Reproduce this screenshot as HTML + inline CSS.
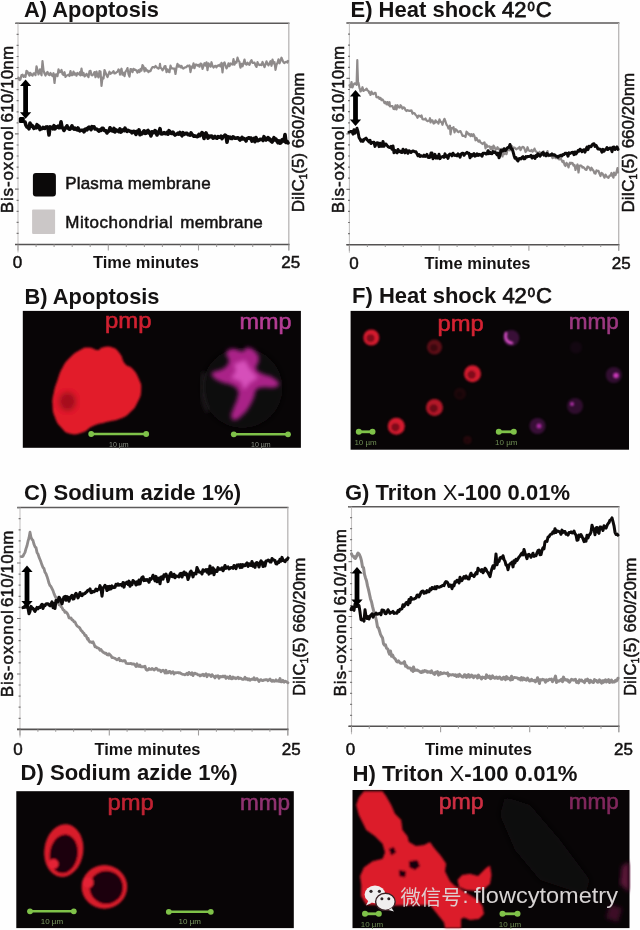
<!DOCTYPE html>
<html><head><meta charset="utf-8"><title>Membrane potential figure</title>
<style>html,body{margin:0;padding:0;background:#fff;overflow:hidden}svg{display:block;filter:blur(0.45px)}</style>
</head><body>
<svg width="640" height="930" viewBox="0 0 640 930">
<rect width="640" height="930" fill="#fefefe"/>
<defs>
<filter id="b1" x="-20%" y="-20%" width="140%" height="140%"><feGaussianBlur stdDeviation="1"/></filter>
<filter id="b2" x="-20%" y="-20%" width="140%" height="140%"><feGaussianBlur stdDeviation="2"/></filter>
<filter id="b3" x="-30%" y="-30%" width="160%" height="160%"><feGaussianBlur stdDeviation="3.5"/></filter>
<filter id="b05" x="-10%" y="-10%" width="120%" height="120%"><feGaussianBlur stdDeviation="0.6"/></filter>
</defs>
<text x="24.0" y="17.0" font-size="22" font-weight="bold" font-family="'Liberation Sans', sans-serif" fill="#141212" textLength="135.0" lengthAdjust="spacingAndGlyphs">A) Apoptosis</text><line x1="15.5" y1="23.3" x2="289.5" y2="23.3" stroke="#5c5a5a" stroke-width="1.5"/><line x1="288.8" y1="23.3" x2="288.8" y2="250.5" stroke="#b8b6b6" stroke-width="1.3"/><line x1="18.0" y1="23.3" x2="18.0" y2="252.5" stroke="#c6c4c4" stroke-width="1.1"/><path d="M15.0 244.5h3.6M16.6 233.4h2.0M16.6 222.4h2.0M16.6 211.3h2.0M16.6 200.3h2.0M15.0 189.2h3.6M16.6 178.1h2.0M16.6 167.1h2.0M16.6 156.0h2.0M16.6 145.0h2.0M15.0 133.9h3.6M16.6 122.8h2.0M16.6 111.8h2.0M16.6 100.7h2.0M16.6 89.7h2.0M15.0 78.6h3.6M16.6 67.5h2.0M16.6 56.5h2.0M16.6 45.4h2.0M16.6 34.4h2.0M15.0 23.3h3.6" stroke="#7a7878" stroke-width="1.2" fill="none"/><line x1="15.0" y1="244.5" x2="289.5" y2="244.5" stroke="#545252" stroke-width="1.6"/><path d="M18.0 244.5v6.0M36.1 244.5v2.4M54.1 244.5v2.4M72.2 244.5v2.4M90.2 244.5v2.4M108.3 244.5v6.0M126.3 244.5v2.4M144.4 244.5v2.4M162.4 244.5v2.4M180.5 244.5v2.4M198.5 244.5v6.0M216.6 244.5v2.4M234.6 244.5v2.4M252.7 244.5v2.4M270.7 244.5v2.4M288.8 244.5v6.0" stroke="#a09e9e" stroke-width="1.1" fill="none"/><text x="17.4" y="267.8" font-size="17" font-family="'Liberation Sans', sans-serif" fill="#141212" stroke="#141212" stroke-width="0.5" text-anchor="middle">0</text><text x="93.0" y="267.8" font-size="16.5" font-weight="bold" font-family="'Liberation Sans', sans-serif" fill="#141212" textLength="106.0" lengthAdjust="spacingAndGlyphs">Time minutes</text><text x="290.7" y="267.8" font-size="17" font-family="'Liberation Sans', sans-serif" fill="#141212" stroke="#141212" stroke-width="0.5" text-anchor="middle">25</text><text transform="translate(13.1 213.2) rotate(-90)" font-size="17" font-family="'Liberation Sans', sans-serif" fill="#141212" stroke="#141212" stroke-width="0.5" letter-spacing="0.85">Bis-oxonol</text><text transform="translate(13.1 122.4) rotate(-90)" font-size="17" font-family="'Liberation Sans', sans-serif" fill="#141212" stroke="#141212" stroke-width="0.5" letter-spacing="0.12">610/10nm</text><text transform="translate(304.0 142.4) rotate(-90)" font-size="17" font-family="'Liberation Sans', sans-serif" fill="#141212" stroke="#141212" stroke-width="0.5" text-anchor="middle" textLength="139.9" lengthAdjust="spacingAndGlyphs">DiIC<tspan font-size="10" dy="3">1</tspan><tspan dy="-3">(5) 660/20nm</tspan></text><path d="M18.5 77.6L19.5 80.1L20.5 79.3L21.5 75.1L22 75.3L22.5 74.7L23.5 76.9L24.5 75.3L25.5 76.8L26.5 70.8L27.5 71.6L28.5 74.2L29.5 75.6L30 72.8L30.5 73.1L31.5 74.9L32.5 75.7L33.5 73.4L34.5 73.4L35.5 75.2L36.5 66.3L37.5 70.3L38.5 74.4L39.5 72L40 69.3L40.5 71.7L41.5 75.3L42.5 61.1L43.5 70.3L44.5 73.6L45.5 75.5L46.5 73.1L47.5 72L48.5 74.5L49.5 75.2L50.5 73L51.5 74.8L52.5 76L53.5 73.2L54.5 83L55.5 74.5L56.5 74.3L57.5 76.1L58.5 69.3L59.5 72.3L60.5 71.9L61.5 70L62.5 74.1L63.5 75L64.5 72.2L65.5 76.9L66.5 75.6L67.5 75.2L68.5 74.7L69.5 76L70.5 71L71.5 75.2L72.5 75.2L73.5 71.6L74.5 74.7L75.5 73.4L76.5 75.7L77.5 73L78.5 73.9L79.5 74.7L80 72.1L80.5 75.3L81.5 68.6L82.5 75.1L83.5 72.9L84.5 76.5L85.5 75.5L86.5 73.8L87.5 75.6L88.5 77L89.5 71.3L90.5 70.8L91.5 75.2L92.5 75.3L93.5 74.1L94.5 72.1L95.5 77.2L96.5 71.6L97.5 75.7L98.5 77.3L99.5 71L100 73.8L100.5 71.6L101.5 85.8L102.5 77.5L103.5 78.5L104.5 70L105.5 72.5L106.5 75.2L107.5 77L108.5 74.4L109.5 71.7L110.5 73.8L111.5 73L112.5 72.5L113.5 71.2L114.5 73.5L115.5 73.2L116.5 72.2L117.5 71.8L118.5 69.4L119.5 71L120 74.7L120.5 71.5L121.5 68.7L122.5 74.7L123.5 72.8L124.5 76.2L125.5 71.6L126.5 70.3L127.5 68.1L128.5 74.1L129.5 76.7L130.5 69.1L131.5 69.4L132.5 72.1L133.5 68.8L134.5 70L135.5 69.7L136.5 70.8L137.5 72.7L138.5 70.2L139.5 72.1L140.5 69L141.5 70.6L142.5 65L143.5 66.5L144.5 71.3L145.5 68.2L146.5 70.6L147.5 70.4L148.5 72.1L149.5 70.8L150.5 71.2L151.5 68.6L152.5 67.2L153.5 67L154.5 67.5L155.5 66L156.5 67.1L157.5 68L158.5 68.7L159.5 67.3L160 63.8L160.5 67.8L161.5 68.4L162.5 70.3L163.5 69.1L164.5 66.4L165.5 66.1L166.5 72.1L167.5 69.3L168.5 71.6L169.5 72.2L170.5 65.7L171.5 68.3L172.5 68.4L173.5 68.6L174.5 68.5L175.5 74L176.5 67.6L177.5 63.8L178.5 66.7L179.5 65.4L180.5 67.3L181.5 65.9L182.5 68.2L183.5 68.6L184.5 67.5L185.5 67.4L186.5 66.9L187.5 65.6L188.5 66.2L189.5 65.4L190.5 72.1L191.5 66.5L192.5 67.7L193.5 63.4L194.5 68.2L195.5 64.5L196.5 64.6L197.5 65.7L198.5 64.8L199.5 66.7L200 64.7L200.5 63.6L201.5 64.1L202.5 68.8L203.5 65.9L204.5 63.2L205.5 65.7L206.5 62.3L207.5 70.2L208.5 63.3L209.5 65L210.5 66.7L211.5 62.2L212.5 66L213.5 67.5L214.5 66.3L215.5 65.8L216.5 67.3L217.5 65.5L218.5 65.8L219.5 64.7L220.5 66.4L221.5 62.9L222.5 72.4L223.5 63.7L224.5 62.4L225.5 65.5L226.5 68.4L227.5 66.7L228.5 63.4L229.5 66.1L230.5 63.5L231.5 64.2L232.5 64.6L233.5 59.2L234.5 64.7L235.5 62L236.5 62.6L237.5 57.7L238.5 60.7L239.5 61.9L240 65.8L240.5 67.6L241.5 63.9L242.5 66.3L243.5 63.2L244.5 59.6L245.5 64L246.5 64.6L247.5 62.7L248.5 64.2L249.5 64.8L250.5 61.6L251.5 60.2L252.5 62.9L253.5 62.8L254.5 62.5L255.5 65.4L256.5 66.9L257.5 62.2L258.5 64.6L259.5 65.1L260.5 64.5L261.5 65.2L262.5 62L263.5 64.4L264.5 67.2L265.5 64.4L266.5 61.3L267.5 63.9L268.5 65.3L269.5 63.3L270.5 61.2L271.5 65.8L272.5 59.6L273.5 63.4L274.5 62.2L275.5 69.9L276.5 64.8L277.5 62.8L278.5 59.4L279.5 63.3L280.5 60.9L281.5 57.7L282.5 60.3L283.5 62.3L284.5 63.1L285.5 62L286.5 61.7L287.5 62.6L288 61" fill="none" stroke="#8f8b8b" stroke-width="2.2" stroke-linejoin="round" stroke-linecap="round"/><path d="M25 122L26 125.4L27 127L28 127.3L29 128.8L30 123.1L31 126.2L32 125.3L33 127L34 128.4L35 127.1L36 127.8L37 124.7L38 127.5L39 126.1L40 129.6L41 128.5L42 128.6L43 127.4L44 128.3L45 128.4L46 127.1L47 126.9L48 127.5L49 135L50 126.9L51 127.3L52 127.2L53 128.8L54 125.7L55 128.9L56 127.1L57 127.2L58 126.2L59 127.8L60 127.7L61 121.7L62 127.4L63 128.2L64 130.5L65 128.7L66 127.5L67 125.9L68 128.1L69 129.1L70 129.2L71 127.9L72 125.9L73 128L74 129.2L75 128.1L76 129.2L77 129.9L78 128L79 130.3L80 130.9L81 130.2L82 130.3L83 130.3L84 131.8L85 129.2L86 129L87 129.8L88 127.9L89 127.1L90 128L91 129.6L92 126.6L93 127.2L94 126.8L95 128.9L96 129.1L97 129.3L98 130.3L99 131.1L100 129.8L101 130.4L102 128.2L103 128.2L104 130.1L105 130.7L106 130.8L107 133L108 131L109 131.1L110 127.8L111 129.2L112 130.8L113 131.1L114 128.4L115 132L116 129.9L117 130.3L118 131L119 131.7L120 128.9L121 132.1L122 131L123 129.9L124 130.6L125 128.2L126 130.3L127 131.4L128 130.3L129 130.9L130 131.2L131 131.5L132 132.8L133 131.5L134 131.3L135 132.4L136 134.4L137 131.4L138 132.5L139 129.9L140 134.8L141 132.9L142 133.8L143 132.1L144 130.8L145 133.4L146 133.3L147 131.2L148 130.5L149 133L150 132.3L151 135.9L152 131.8L153 132L154 132.6L155 130.6L156 131.6L157 135L158 132.7L159 132.2L160 128.7L161 133.8L162 134L163 133.5L164 132.7L165 133.6L166 133.8L167 132.5L168 134.2L169 130.7L170 131.8L171 133.2L172 133.5L173 132.1L174 134.1L175 135.1L176 134.4L177 134.1L178 133.2L179 134.1L180 132.5L181 133.8L182 135.8L183 132.7L184 134.4L185 133.9L186 133.3L187 133.2L188 134.7L189 134.7L190 135.2L191 132.9L192 134.5L193 135.4L194 136.3L195 136L196 136.3L197 136.7L198 136.4L199 134.4L200 135.6L201 134.6L202 132.6L203 133.5L204 138.5L205 134.4L206 133L207 135.3L208 138.1L209 136.1L210 136.8L211 136L212 136.3L213 138.1L214 137.6L215 136.5L216 137.9L217 138.2L218 136.6L219 137.3L220 137.3L221 136.2L222 138.6L223 137L224 136.4L225 135.1L226 135.7L227 142.2L228 136.8L229 138.1L230 137.1L231 138.4L232 138.5L233 136.8L234 137.5L235 138.1L236 138.1L237 138L238 137.7L239 139L240 140L241 139L242 137.4L243 139L244 138.6L245 139.2L246 141L247 138.4L248 138.2L249 137.7L250 138.5L251 138.2L252 141.1L253 139.5L254 138.4L255 141.7L256 137.5L257 140.4L258 140.7L259 140.2L260 139.2L261 139.4L262 139.2L263 140.5L264 136.7L265 139.1L266 140L267 139.1L268 137.6L269 139.7L270 139.1L271 141.1L272 142L273 140.3L274 137.7L275 140L276 139.2L277 141.3L278 142.7L279 140.9L280 143.2L281 142.6L282 139.8L283 139.6L284 141.1L285 134.5L286 142.4L287 141.3L288 142.9" fill="none" stroke="#0c0a0a" stroke-width="3.6" stroke-linejoin="round" stroke-linecap="round"/><rect x="18.8" y="117" width="6" height="6" rx="1.5" fill="#000"/><path d="M25.6 79.4L20.0 85.9L31.2 85.9Z" fill="#000"/><path d="M25.6 118.8L20.0 112.3L31.2 112.3Z" fill="#000"/><line x1="25.6" y1="84.9" x2="25.6" y2="113.3" stroke="#000" stroke-width="4.8"/><rect x="32.9" y="172.9" width="23" height="23.6" rx="3" fill="#0b0909"/><rect x="32.1" y="209.6" width="23" height="24.5" rx="1" fill="#cbc7c7"/><text x="65.2" y="189.4" font-size="17" font-family="'Liberation Sans', sans-serif" fill="#141212" stroke="#141212" stroke-width="0.5" textLength="57.7" lengthAdjust="spacing">Plasma</text><text x="127.7" y="189.4" font-size="17" font-family="'Liberation Sans', sans-serif" fill="#141212" stroke="#141212" stroke-width="0.5" textLength="82.9" lengthAdjust="spacing">membrane</text><text x="65.2" y="228.4" font-size="17" font-family="'Liberation Sans', sans-serif" fill="#141212" stroke="#141212" stroke-width="0.5" textLength="107.6" lengthAdjust="spacing">Mitochondrial</text><text x="180.3" y="228.4" font-size="17" font-family="'Liberation Sans', sans-serif" fill="#141212" stroke="#141212" stroke-width="0.5" textLength="82.5" lengthAdjust="spacing">membrane</text>
<text x="350.5" y="17.0" font-size="22" font-weight="bold" font-family="'Liberation Sans', sans-serif" fill="#141212">E) Heat shock <tspan font-weight="normal" stroke="#141212" stroke-width="0.75">42<tspan font-size="13" dy="-6" dx="0.8" stroke-width="0.8">0</tspan><tspan dy="6" dx="1">C</tspan></tspan></text><line x1="346.5" y1="23.0" x2="619.4" y2="23.0" stroke="#5c5a5a" stroke-width="1.5"/><line x1="618.7" y1="23.0" x2="618.7" y2="250.7" stroke="#b8b6b6" stroke-width="1.3"/><line x1="349.4" y1="23.0" x2="349.4" y2="252.7" stroke="#c6c4c4" stroke-width="1.1"/><path d="M346.4 244.7h3.6M348.0 233.6h2.0M348.0 222.5h2.0M348.0 211.4h2.0M348.0 200.4h2.0M346.4 189.3h3.6M348.0 178.2h2.0M348.0 167.1h2.0M348.0 156.0h2.0M348.0 144.9h2.0M346.4 133.8h3.6M348.0 122.8h2.0M348.0 111.7h2.0M348.0 100.6h2.0M348.0 89.5h2.0M346.4 78.4h3.6M348.0 67.3h2.0M348.0 56.3h2.0M348.0 45.2h2.0M348.0 34.1h2.0M346.4 23.0h3.6" stroke="#7a7878" stroke-width="1.2" fill="none"/><line x1="346.4" y1="244.7" x2="619.4" y2="244.7" stroke="#545252" stroke-width="1.6"/><path d="M349.4 244.7v6.0M367.4 244.7v2.4M385.3 244.7v2.4M403.3 244.7v2.4M421.2 244.7v2.4M439.2 244.7v6.0M457.1 244.7v2.4M475.1 244.7v2.4M493.0 244.7v2.4M511.0 244.7v2.4M528.9 244.7v6.0M546.9 244.7v2.4M564.8 244.7v2.4M582.8 244.7v2.4M600.7 244.7v2.4M618.7 244.7v6.0" stroke="#a09e9e" stroke-width="1.1" fill="none"/><text x="354.0" y="268.6" font-size="17" font-family="'Liberation Sans', sans-serif" fill="#141212" stroke="#141212" stroke-width="0.5" text-anchor="middle">0</text><text x="424.5" y="268.6" font-size="16.5" font-weight="bold" font-family="'Liberation Sans', sans-serif" fill="#141212" textLength="106.0" lengthAdjust="spacingAndGlyphs">Time minutes</text><text x="621.3" y="268.6" font-size="17" font-family="'Liberation Sans', sans-serif" fill="#141212" stroke="#141212" stroke-width="0.5" text-anchor="middle">25</text><text transform="translate(343.7 213.2) rotate(-90)" font-size="17" font-family="'Liberation Sans', sans-serif" fill="#141212" stroke="#141212" stroke-width="0.5" letter-spacing="0.85">Bis-oxonol</text><text transform="translate(343.7 122.4) rotate(-90)" font-size="17" font-family="'Liberation Sans', sans-serif" fill="#141212" stroke="#141212" stroke-width="0.5" letter-spacing="0.12">610/10nm</text><text transform="translate(634.0 142.6) rotate(-90)" font-size="17" font-family="'Liberation Sans', sans-serif" fill="#141212" stroke="#141212" stroke-width="0.5" text-anchor="middle" textLength="139.7" lengthAdjust="spacingAndGlyphs">DiIC<tspan font-size="10" dy="3">1</tspan><tspan dy="-3">(5) 660/20nm</tspan></text><path d="M349.5 85.2L350.5 87.2L351.5 82L352.5 87.5L353.5 84.6L354.5 83.3L355 83.8L355.5 83.4L356.5 83.5L356.6 85L357.3 60.2L357.5 67.8L358 82.2L358.5 82.9L359.5 88.1L360 89.2L360.5 91.4L361.5 90.3L362.5 87.2L363.5 91L364.5 90.2L365.5 89.8L366.5 88.6L367.5 90.6L368.5 91L369.5 93.3L370 92.4L370.5 95L371.5 91.6L372.5 93.7L373.5 94.2L374.5 92.8L375.5 92.8L376.5 97.2L377.5 97.4L378.5 97L379.5 98.9L380.5 97.9L381.5 100.2L382.5 99.4L383.5 100.8L384.5 103.2L385.5 101.8L386.5 104.3L387.5 102.1L388.5 105.1L389.5 102.2L390 106.3L390.5 106.3L391.5 106L392.5 106.2L393.5 109L394.5 109.1L395.5 105.4L396.5 109.4L397.5 105.2L398.5 107.2L399.5 107.6L400 107.5L400.5 105.2L401.5 106.5L402.5 108.7L403.5 107.3L404.5 107.7L405.5 110.1L406.5 111L407.5 110.1L408.5 110.7L409.5 110.9L410 110.5L410.5 110.8L411.5 110.4L412.5 113.8L413.5 112.9L414.5 113.2L415.5 114.8L416.5 115.7L417.5 117.8L418.5 115.7L419.5 115.8L420.5 116.8L421.5 115.4L422.5 119.1L423.5 119.3L424.5 119.4L425.5 118.5L426.5 120.4L427.5 121.2L428.5 120.8L429.5 120.1L430 118.2L430.5 122.4L431.5 120.4L432.5 120.3L433.5 123.5L434.5 123.2L435.5 120.3L436.5 122.2L437.5 121.8L438.5 123.6L439.5 119.3L440.5 121.7L441.5 122.2L442.5 124.8L443.5 120.9L444.5 118.8L445.5 121.5L446.5 124.7L447.5 125.8L448.5 128.5L449.5 127.3L450 125.7L450.5 134.3L451.5 128.1L452.5 128.4L453.5 127.1L454.5 132.4L455.5 129.2L456.5 129.7L457.5 131.5L458.5 132.2L459.5 131.4L460.5 131.2L461.5 133.4L462.5 135.9L463.5 135.7L464.5 136L465.5 137L466.5 131.7L467.5 132.6L468.5 134.5L469.5 133.9L470 134.6L470.5 136.2L471.5 134.2L472.5 136.1L473.5 134.2L474.5 136.3L475.5 140.3L476.5 137.9L477.5 140.2L478.5 141.7L479.5 140.3L480.5 142.6L481.5 143L482.5 144L483.5 143L484.5 142.3L485.5 148.4L486.5 144.6L487.5 146.8L488.5 146.4L489.5 146.4L490 146.7L490.5 149L491.5 147L492.5 150.3L493.5 145.5L494.5 147.1L495.5 149.2L496.5 149.3L497.5 147.2L498.5 149.2L499.5 148.8L500 150.9L500.5 150.8L501.5 148.9L502.5 156.5L503.5 149.1L504.5 154.1L505.5 150L506.5 154.2L507.5 150.2L508.5 149.9L509.5 149.5L510 150.4L510.5 148L511.5 145.8L512.5 147L513.5 148.1L514.5 147.6L515.5 148.7L516.5 149.3L517.5 148.3L518.5 148.3L519.5 146.8L520.5 150.2L521.5 148.2L522.5 146.8L523.5 147.1L524.5 148.7L525.5 152L526.5 151L527.5 147.2L528.5 150L529.5 150.9L530 150.8L530.5 151.1L531.5 149.9L532.5 151.7L533.5 150.8L534.5 148.6L535.5 151.1L536.5 151.7L537.5 154.8L538.5 154.7L539.5 151.9L540.5 153.9L541.5 153.9L542.5 152.2L543.5 151.3L544.5 154.7L545.5 155.1L546.5 154.2L547.5 151.1L548.5 156.2L549.5 155.3L550 155L550.5 154.6L551.5 155.1L552.5 158.1L553.5 157.3L554.5 156.8L555.5 158.1L556.5 158.2L557.5 156.7L558.5 159.1L559.5 159.3L560.5 157.6L561.5 160.1L562.5 162L563.5 160.9L564.5 164.8L565.5 166L566.5 162.9L567.5 164.5L568.5 167.4L569.5 163.5L570 162.7L570.5 163.9L571.5 162.8L572.5 163L573.5 165.5L574.5 164.9L575.5 170L576.5 166.7L577.5 164.4L578.5 172.5L579.5 165.8L580.5 165.4L581.5 165.8L582.5 167.6L583.5 167.1L584.5 168.3L585.5 169.7L586.5 169.8L587.5 166.6L588.5 167.1L589.5 168.2L590 169L590.5 170.3L591.5 167.7L592.5 169.5L593.5 170.7L594.5 173.3L595.5 173.6L596.5 170.3L597.5 171.1L598.5 170.9L599.5 173.9L600.5 176L601.5 172.9L602.5 173.4L603.5 175.7L604.5 177.7L605.5 174.6L606.5 176.2L607.5 177.4L608 177.5L608.5 177.9L609.5 175.7L610.5 175.6L611.5 173L612.5 176.2L613.5 177.7L614 172.5L614.5 175L615.5 175.2L616.5 172.2L617.5 168.1L618 172.5" fill="none" stroke="#8f8b8b" stroke-width="2.2" stroke-linejoin="round" stroke-linecap="round"/><path d="M349 132.1L350 131.9L351 131.4L352 131.4L353 134.1L354 129.7L355 133.1L356 131.5L357 128.3L358 131.7L359 137.5L360 139.1L361 141.1L362 140.1L363 141.4L364 139.3L365 138.9L366 138.2L367 139.7L368 140.6L369 142L370 140.3L371 143.5L372 142.7L373 142.3L374 142.3L375 146.4L376 144L377 142.7L378 142.9L379 146.6L380 143.3L381 146.3L382 146.3L383 141.4L384 146.2L385 144.3L386 144L387 145.4L388 146.6L389 147.2L390 147.5L391 146.4L392 149.2L393 146L394 152.7L395 150.3L396 152.1L397 152.8L398 149.5L399 151.7L400 151.1L401 152.2L402 152.5L403 149.2L404 151.3L405 152.8L406 149.7L407 150.9L408 153.3L409 150.7L410 151.5L411 152.5L412 151.4L413 151L414 151.4L415 151.8L416 151.8L417 153.9L418 155.8L419 154.5L420 156.4L421 155.7L422 156.1L423 156.4L424 155.1L425 156.5L426 155.9L427 154.4L428 157.3L429 157.5L430 157.2L431 153.1L432 153.1L433 158.7L434 157.2L435 154.4L436 158.1L437 156.5L438 158.1L439 154.3L440 158.6L441 157.2L442 156.8L443 156.4L444 157.3L445 153.9L446 156.6L447 155.9L448 158.4L449 154.7L450 154.1L451 154.3L452 155.8L453 153.2L454 155L455 155.5L456 155L457 155.8L458 153.9L459 155L460 157.2L461 154.1L462 153.3L463 153.3L464 155.3L465 153.9L466 153.3L467 152.4L468 153.3L469 153.3L470 157.7L471 154.5L472 156.1L473 154.6L474 153.5L475 156.1L476 155.6L477 153.9L478 155.5L479 154.2L480 154.9L481 154.6L482 156.3L483 153.2L484 153.3L485 153.2L486 153.9L487 153.9L488 150.8L489 153.7L490 152.2L491 153.6L492 153.7L493 151.5L494 152.4L495 151.9L496 153.2L497 154.8L498 153L499 157.8L500 155.5L501 150.3L502 151.2L503 150.8L504 148.7L505 150.5L506 150.2L507 148.2L508 147.5L509 147.3L510 144.5L511 148.7L512 148.7L513 151.6L514 155.4L515 158.3L516 157.5L517 159.9L518 160.9L519 158.7L520 158.4L521 158.9L522 157.4L523 156.6L524 158.8L525 158.7L526 156.6L527 157L528 156.4L529 156.4L530 156.3L531 155.4L532 158L533 156.2L534 156.3L535 158.4L536 155.5L537 156.5L538 153.9L539 154.8L540 156.2L541 154.9L542 153.2L543 152.6L544 155.2L545 153.8L546 155.8L547 153.4L548 154.9L549 155.3L550 155L551 155.2L552 153.9L553 155.2L554 154.7L555 155.2L556 156.3L557 156.2L558 157.2L559 156.1L560 155.6L561 155.3L562 156L563 154.4L564 154.6L565 153.3L566 153.2L567 153.5L568 156.2L569 152.9L570 153.5L571 153L572 152.4L573 152.2L574 154.7L575 152L576 154L577 152.5L578 150.6L579 151.1L580 149.2L581 149.9L582 151.7L583 150.1L584 149.8L585 152.1L586 149.2L587 147L588 149.7L589 146.3L590 146.6L591 146.7L592 144.9L593 144L594 143.8L595 146.4L596 145.3L597 147L598 149L599 149L600 149.3L601 149.6L602 152.2L603 149.3L604 151.1L605 149.6L606 149.4L607 147.6L608 149.5L609 148.7L610 147.9L611 148.1L612 151.7L613 147.2L614 147.1L615 149.5L616 148.3L617 146.9L618 149.4" fill="none" stroke="#0c0a0a" stroke-width="3.0" stroke-linejoin="round" stroke-linecap="round"/><path d="M355.5 90.0L349.9 96.5L361.1 96.5Z" fill="#000"/><path d="M355.5 126.0L349.9 119.5L361.1 119.5Z" fill="#000"/><line x1="355.5" y1="95.5" x2="355.5" y2="120.5" stroke="#000" stroke-width="4.8"/>
<text x="24.5" y="303.6" font-size="22" font-weight="bold" font-family="'Liberation Sans', sans-serif" fill="#141212" textLength="135.0" lengthAdjust="spacingAndGlyphs">B) Apoptosis</text><rect x="22.8" y="310.9" width="278.1" height="136.9" fill="#080506"/><text x="105.0" y="327.8" font-size="21.5" font-family="'Liberation Sans', sans-serif" fill="#d02030" stroke="#d02030" stroke-width="0.55" filter="url(#b05)" textLength="46.5" lengthAdjust="spacingAndGlyphs">pmp</text><text x="239.5" y="328.8" font-size="21.5" font-family="'Liberation Sans', sans-serif" fill="#b43c94" stroke="#b43c94" stroke-width="0.55" filter="url(#b05)" textLength="52.0" lengthAdjust="spacingAndGlyphs">mmp</text><g filter="url(#b1)"><path d="M88.8 347.5C93.4 347.5 93.8 350.0 97.5 350.0C101.2 350.0 98.5 348.2 102.5 347.5C106.5 346.8 107.8 345.8 112.5 347.5C117.2 349.2 116.7 349.4 120.0 353.8C123.3 358.1 121.7 359.8 125.0 363.8C128.3 367.8 128.8 364.8 132.5 368.8C136.2 372.8 136.4 373.1 138.8 378.8C141.1 384.4 141.6 383.7 141.2 390.0C140.9 396.3 140.5 396.5 137.5 402.5C134.5 408.5 134.7 408.2 130.0 412.5C125.3 416.8 126.7 416.1 120.0 418.8C113.3 421.4 112.3 420.5 105.0 422.5C97.7 424.5 98.5 423.6 92.5 426.2C86.5 428.9 88.5 430.5 82.5 432.5C76.5 434.5 75.7 435.1 70.0 433.8C64.3 432.4 65.2 431.8 61.2 427.5C57.2 423.2 57.3 423.5 55.0 417.5C52.7 411.5 52.8 411.7 52.5 405.0C52.2 398.3 52.4 399.2 53.8 392.5C55.1 385.8 55.2 386.7 57.5 380.0C59.8 373.3 59.2 373.5 62.5 367.5C65.8 361.5 65.3 362.2 70.0 357.5C74.7 352.8 75.0 352.7 80.0 350.0C85.0 347.3 84.1 347.5 88.8 347.5Z" fill="#e21a2c"/><ellipse cx="67.5" cy="401.5" rx="8.5" ry="9.5" fill="#9c0c1a" opacity="0.85" filter="url(#b2)"/></g><circle cx="242.5" cy="388" r="40" fill="#0f0b0d" filter="url(#b3)"/><path d="M204 372Q198 392 208 412" fill="none" stroke="#2c282a" stroke-width="2.5" filter="url(#b2)"/><path d="M226.2 353.8C227.2 350.8 228.2 349.4 232.5 348.8C236.8 348.1 238.5 351.6 242.5 351.2C246.5 350.9 243.8 347.2 247.5 347.5C251.2 347.8 253.2 349.2 256.2 352.5C259.2 355.8 258.8 355.7 258.8 360.0C258.8 364.3 255.2 365.1 256.2 368.8C257.2 372.4 258.2 371.4 262.5 373.8C266.8 376.1 268.2 374.8 272.5 377.5C276.8 380.2 278.4 381.1 278.8 383.8C279.1 386.4 278.1 386.5 273.8 387.5C269.4 388.5 267.2 386.8 262.5 387.5C257.8 388.2 258.6 387.3 256.2 390.0C253.9 392.7 255.8 392.8 253.8 397.5C251.8 402.2 251.8 402.8 248.8 407.5C245.8 412.2 246.2 411.7 242.5 415.0C238.8 418.3 238.0 419.7 235.0 420.0C232.0 420.3 231.6 419.6 231.2 416.2C230.9 412.9 232.1 412.5 233.8 407.5C235.4 402.5 236.5 402.2 237.5 397.5C238.5 392.8 239.2 393.3 237.5 390.0C235.8 386.7 235.2 387.0 231.2 385.0C227.2 383.0 227.2 384.5 222.5 382.5C217.8 380.5 216.4 380.2 213.8 377.5C211.1 374.8 210.8 374.5 212.5 372.5C214.2 370.5 216.3 371.7 220.0 370.0C223.7 368.3 223.9 368.9 226.2 366.2C228.6 363.6 228.8 363.3 228.8 360.0C228.8 356.7 225.2 356.8 226.2 353.8Z" fill="#aa2088" filter="url(#b2)"/><path d="M234 364L245 360L250 369L258 378L250 383L244 390L241 382L231 378L236 371Z" fill="#d650ba" filter="url(#b2)"/><g filter="url(#b05)"><line x1="91.2" y1="434.0" x2="146.2" y2="434.0" stroke="#7fc24a" stroke-width="2.4"/><circle cx="91.2" cy="434.0" r="2.9" fill="#7fc24a"/><circle cx="146.2" cy="434.0" r="2.9" fill="#7fc24a"/></g><text x="118.8" y="446.5" font-size="7" font-family="'Liberation Sans', sans-serif" fill="#8a9084" text-anchor="middle">10 µm</text><g filter="url(#b05)"><line x1="233.8" y1="434.3" x2="288.0" y2="434.3" stroke="#7fc24a" stroke-width="2.4"/><circle cx="233.8" cy="434.3" r="2.9" fill="#7fc24a"/><circle cx="288.0" cy="434.3" r="2.9" fill="#7fc24a"/></g><text x="260.9" y="446.5" font-size="7" font-family="'Liberation Sans', sans-serif" fill="#8a9084" text-anchor="middle">10 µm</text>
<text x="352.0" y="303.3" font-size="22" font-weight="bold" font-family="'Liberation Sans', sans-serif" fill="#141212">F) Heat shock <tspan font-weight="normal" stroke="#141212" stroke-width="0.75">42<tspan font-size="13" dy="-6" dx="0.8" stroke-width="0.8">0</tspan><tspan dy="6" dx="1">C</tspan></tspan></text><rect x="350.6" y="310.9" width="278.4" height="138.8" fill="#080506"/><text x="437.5" y="331.3" font-size="21.5" font-family="'Liberation Sans', sans-serif" fill="#d42232" stroke="#d42232" stroke-width="0.55" filter="url(#b05)" textLength="46.3" lengthAdjust="spacingAndGlyphs">pmp</text><text x="568.7" y="328.8" font-size="21.5" font-family="'Liberation Sans', sans-serif" fill="#9c3880" stroke="#9c3880" stroke-width="0.55" filter="url(#b05)" textLength="50.0" lengthAdjust="spacingAndGlyphs">mmp</text><g filter="url(#b1)" opacity="0.95"><circle cx="371.3" cy="337.5" r="8.0" fill="#e01c30"/><circle cx="370.5" cy="338.3" r="4.0" fill="#000" opacity="0.4"/></g><g filter="url(#b1)" opacity="0.40"><circle cx="434.5" cy="347.0" r="7.5" fill="#e01c30"/><circle cx="433.8" cy="347.8" r="3.8" fill="#000" opacity="0.4"/></g><g filter="url(#b1)" opacity="0.95"><circle cx="472.5" cy="373.8" r="8.5" fill="#e01c30"/><circle cx="471.6" cy="374.7" r="4.2" fill="#000" opacity="0.4"/></g><g filter="url(#b1)" opacity="0.80"><circle cx="434.5" cy="407.5" r="8.5" fill="#e01c30"/><circle cx="433.6" cy="408.4" r="4.2" fill="#000" opacity="0.4"/></g><g filter="url(#b1)" opacity="0.95"><circle cx="396.3" cy="426.3" r="8.5" fill="#e01c30"/><circle cx="395.4" cy="427.2" r="4.2" fill="#000" opacity="0.4"/></g><g filter="url(#b1)" opacity="0.10"><circle cx="460.0" cy="393.8" r="6.0" fill="#e01c30"/><circle cx="459.4" cy="394.4" r="3.0" fill="#000" opacity="0.4"/></g><g filter="url(#b1)" opacity="0.15"><circle cx="467.5" cy="440.0" r="4.0" fill="#e01c30"/><circle cx="467.1" cy="440.4" r="2.0" fill="#000" opacity="0.4"/></g><g filter="url(#b1)" opacity="0.32"><circle cx="511.3" cy="338.0" r="8.0" fill="#a028a0"/></g><g filter="url(#b1)" opacity="0.07"><circle cx="576.0" cy="347.5" r="6.0" fill="#a028a0"/></g><g filter="url(#b1)" opacity="0.28"><circle cx="613.8" cy="375.0" r="8.0" fill="#a028a0"/></g><g filter="url(#b1)" opacity="0.26"><circle cx="575.0" cy="406.0" r="8.0" fill="#a028a0"/></g><g filter="url(#b1)" opacity="0.32"><circle cx="537.5" cy="426.0" r="8.0" fill="#a028a0"/></g><g filter="url(#b1)"><path d="M506 333 Q504 342 512 343" fill="none" stroke="#d850c8" stroke-width="2.6" stroke-linecap="round"/><circle cx="616" cy="375.5" r="2.8" fill="#c838b8"/><circle cx="572" cy="404" r="2" fill="#b030a8"/><circle cx="539" cy="426" r="2.5" fill="#a82ca0"/></g><g filter="url(#b05)"><line x1="358.8" y1="431.8" x2="372.5" y2="431.8" stroke="#7fc24a" stroke-width="2.8"/><circle cx="358.8" cy="431.8" r="3.0" fill="#7fc24a"/><circle cx="372.5" cy="431.8" r="3.0" fill="#7fc24a"/></g><text x="365.6" y="444.5" font-size="8" font-family="'Liberation Sans', sans-serif" fill="#6e8c54" text-anchor="middle">10 µm</text><g filter="url(#b05)"><line x1="498.8" y1="431.8" x2="513.8" y2="431.8" stroke="#7fc24a" stroke-width="2.8"/><circle cx="498.8" cy="431.8" r="3.0" fill="#7fc24a"/><circle cx="513.8" cy="431.8" r="3.0" fill="#7fc24a"/></g><text x="506.3" y="444.5" font-size="8" font-family="'Liberation Sans', sans-serif" fill="#6e8c54" text-anchor="middle">10 µm</text>
<text x="24.0" y="500.3" font-size="22" font-weight="bold" font-family="'Liberation Sans', sans-serif" fill="#141212" textLength="217.0" lengthAdjust="spacingAndGlyphs">C) Sodium azide 1%)</text><line x1="17.2" y1="507.6" x2="288.5" y2="507.6" stroke="#5c5a5a" stroke-width="1.5"/><line x1="287.8" y1="507.6" x2="287.8" y2="735.4" stroke="#b8b6b6" stroke-width="1.3"/><line x1="20.0" y1="507.6" x2="20.0" y2="737.4" stroke="#c6c4c4" stroke-width="1.1"/><path d="M17.0 729.4h3.6M18.6 718.3h2.0M18.6 707.2h2.0M18.6 696.1h2.0M18.6 685.0h2.0M17.0 674.0h3.6M18.6 662.9h2.0M18.6 651.8h2.0M18.6 640.7h2.0M18.6 629.6h2.0M17.0 618.5h3.6M18.6 607.4h2.0M18.6 596.3h2.0M18.6 585.2h2.0M18.6 574.1h2.0M17.0 563.0h3.6M18.6 552.0h2.0M18.6 540.9h2.0M18.6 529.8h2.0M18.6 518.7h2.0M17.0 507.6h3.6" stroke="#7a7878" stroke-width="1.2" fill="none"/><line x1="17.0" y1="729.4" x2="288.5" y2="729.4" stroke="#545252" stroke-width="1.6"/><path d="M20.0 729.4v6.0M37.9 729.4v2.4M55.7 729.4v2.4M73.6 729.4v2.4M91.4 729.4v2.4M109.3 729.4v6.0M127.1 729.4v2.4M145.0 729.4v2.4M162.8 729.4v2.4M180.7 729.4v2.4M198.5 729.4v6.0M216.4 729.4v2.4M234.2 729.4v2.4M252.1 729.4v2.4M269.9 729.4v2.4M287.8 729.4v6.0" stroke="#a09e9e" stroke-width="1.1" fill="none"/><text x="17.9" y="755.2" font-size="17" font-family="'Liberation Sans', sans-serif" fill="#141212" stroke="#141212" stroke-width="0.5" text-anchor="middle">0</text><text x="94.5" y="755.2" font-size="16.5" font-weight="bold" font-family="'Liberation Sans', sans-serif" fill="#141212" textLength="106.0" lengthAdjust="spacingAndGlyphs">Time minutes</text><text x="291.2" y="755.2" font-size="17" font-family="'Liberation Sans', sans-serif" fill="#141212" stroke="#141212" stroke-width="0.5" text-anchor="middle">25</text><text transform="translate(12.8 697.3) rotate(-90)" font-size="17" font-family="'Liberation Sans', sans-serif" fill="#141212" stroke="#141212" stroke-width="0.5" letter-spacing="0.85">Bis-oxonol</text><text transform="translate(12.8 607.0) rotate(-90)" font-size="17" font-family="'Liberation Sans', sans-serif" fill="#141212" stroke="#141212" stroke-width="0.5" letter-spacing="0.12">610/10nm</text><text transform="translate(305.0 626.9) rotate(-90)" font-size="17" font-family="'Liberation Sans', sans-serif" fill="#141212" stroke="#141212" stroke-width="0.5" text-anchor="middle" textLength="138.3" lengthAdjust="spacingAndGlyphs">DiIC<tspan font-size="10" dy="3">1</tspan><tspan dy="-3">(5) 660/20nm</tspan></text><path d="M21 556.6L22 556.6L23 556.2L24 554.1L25 552.4L26 548.6L27 545.7L28 541.2L29 538L30 532.2L31 537.3L32 539.4L33 540.5L34 544.3L35 546.8L36 547.6L37 552.4L38 554L39 557.1L40 559.5L41 562.1L42 565.1L43 567.6L44 568.6L45 572.3L46 573.8L47 576.4L48 579.7L49 583.3L50 585.6L51 586.6L52 588.6L53 590.6L54 593.6L55 596L56 597.8L57 600.5L58 602.3L59 604.8L60 603.1L61 606.7L62 607.5L63 609.7L64 610.2L65 612.4L66 612L67 613.1L68 614.7L69 617.9L70 618.1L71 618L72 619.9L73 620.2L74 621.9L75 622L76 624.2L77 625.9L78 626.6L79 627.2L80 628.3L81 630.3L82 631.1L83 632.6L84 633.4L85 635.6L86 635.5L87 638.1L87.5 639.2L88 638.2L89 641L90 642.2L91 641.8L92 642.6L93 641.8L94 644.1L95 646.8L96 646.7L97 647.8L98 647.9L99 648.4L100 650.3L101 649.6L102 651L103 652.2L104 652.6L105 653.4L106 653.1L107 654.6L108 655L109 653.8L110 654.9L111 655.8L112 657.6L113 657.7L114 658L115 658.3L116 659.1L117 659.8L118 659.2L119 658.3L120 660.7L121 660.3L122 660.9L123 661.1L124 660.6L125 660.6L126 663.1L127 663.5L128 663.7L129 663.6L130 663.6L131 663.3L132 664L133 663.9L134 664L135 665L136 666.6L137 663.7L138 666.2L139 666.5L140 665.1L141 666.8L142 666.9L143 666.6L144 666.9L145 666.3L146 669.4L147 670.3L148 669.9L149 668.5L150 669.3L151 669.5L152 668.5L153 669.2L154 670L155 669.3L156 668.3L157 668.8L158 670.3L159 670L160 670.1L161 671.8L162 670.8L163 670.2L164 670.9L165 673L166 670.2L167 673L168 672.8L169 671.5L170 671.5L171 673.2L172 672.3L173 671.7L174 674L175 672.7L176 672.9L177 672.7L178 672.5L179 673L180 672.7L181 673.6L182 674.1L183 674.3L184 674.5L185 674.8L186 674.3L187 673.2L188 674.7L189 672.4L190 673.4L191 674.4L192 672.7L193 675.6L194 673.5L195 673.2L196 673.9L197 674L198 674.8L199 674.8L200 675.9L201 674.9L202 675.3L203 674.3L204 675.8L205 674.7L206 673.7L207 676.7L208 674.7L209 674.7L210 675L211 676.5L212 674.6L213 675.7L214 676.6L215 677.9L216 676L217 676.4L218 675.7L219 678.3L220 676.5L221 676.6L222 676.9L223 676L224 676.9L225 675.9L226 678.4L227 677L228 677.1L229 678.4L230 676.3L231 678.7L232 678.9L233 676.9L234 678.3L235 677.7L236 678.7L237 678L238 677.2L239 678.7L240 678L241 678.4L242 679.2L243 679.5L244 679.1L245 677.3L246 679.3L247 678.5L248 679.8L249 678.7L250 680.3L251 679.5L252 679.1L253 679.5L254 677.7L255 679.8L256 679.5L257 678.5L258 679.9L259 681.6L260 680L261 679.6L262 680.5L263 680.6L264 680L265 679.9L266 679.6L267 679.6L268 680.7L269 679.8L270 679L271 680.6L272 681.4L273 680.3L274 681.4L275 681.1L276 679.8L277 681.1L278 680.7L279 681.5L280 678.5L281 681.8L282 681.8L283 680.3L284 682.2L285 681.2L286 681.5L287 682.2L288 682.7" fill="none" stroke="#8f8b8b" stroke-width="2.8" stroke-linejoin="round" stroke-linecap="round"/><path d="M23 607.6L24 607.4L25 606L26 607.2L27 604.8L28 607.7L29 613.7L30 611.3L31 606.4L32 608L33 608.5L34 609.9L35 611.4L36 609.2L37 607.5L38 608.8L39 607.2L40 607.5L41 605.6L42 604.3L43 608.4L44 605.2L45 605.6L46 604L47 603.7L48 603.7L49 605.1L50 605.8L51 604.2L52 601.9L53 607.6L54 603.7L55 608.4L56 600.5L57 600.6L58 601.8L59 597.2L60 598.6L61 600.5L62 603.8L63 600L64 597.1L65 596.5L66 600.2L67 596.7L68 597.3L69 601.2L70 597.5L71 596.5L72 595.4L73 599L74 598.7L75 594.8L76 593.3L77 595.3L78 597.8L79 595.8L80 592.6L81 595.1L82 595.6L83 593.9L84 594L85 593.4L86 592.3L87 591.7L88 590.2L89 590.2L90 589L91 592.6L92 592.5L93 591.4L94 591.8L95 590.9L96 589.1L97 590.6L98 589.4L99 589.3L100 585.7L101 588.3L102 596.1L103 588.2L104 587L105 585.4L106 586.9L107 590.5L108 586.6L109 589.4L110 586.4L111 588.9L112 585.9L113 587.3L114 587.6L115 587.3L116 584.3L117 585.2L118 584L119 585.1L120 584.5L121 584.5L122 585.8L123 582.6L124 587.1L125 583L126 583.4L127 582.2L128 584.3L129 581.2L130 586.2L131 582.9L132 584.7L133 580.5L134 581.6L135 582.3L136 585L137 581.8L138 584.1L139 580L140 583.8L141 579.6L142 577.5L143 576.9L144 580.6L145 579.7L146 580.3L147 579.5L148 580.3L149 582.2L150 578.7L151 579.4L152 578L153 575.3L154 577.8L155 580.8L156 576.4L157 581.8L158 578.5L159 578.1L160 583.8L161 577L162 576.9L163 579.1L164 574.8L165 576.2L166 574.2L167 576.5L168 581.6L169 578.1L170 574.2L171 572.6L172 576.6L173 576.8L174 574.3L175 577.7L176 575.9L177 576.3L178 576.3L179 576.8L180 573.9L181 573.3L182 576.9L183 574L184 572L185 574.7L186 573.1L187 574.4L188 579.4L189 576.8L190 572.6L191 571.1L192 573.2L193 576.8L194 573.4L195 573.3L196 573.9L197 567.6L198 570L199 572.1L200 572.3L201 572.4L202 574L203 569.8L204 571.2L205 570.3L206 569.7L207 572.2L208 569.7L209 574.1L210 566L211 573L212 569.7L213 567.8L214 574.7L215 569.9L216 571.2L217 571.5L218 567.7L219 569L220 569.4L221 569L222 567.8L223 570.7L224 568.7L225 565.6L226 568.3L227 567.2L228 566.9L229 568.8L230 568.3L231 567.5L232 567.6L233 568.3L234 565.5L235 566.6L236 568.6L237 565.1L238 565.2L239 564.8L240 567.6L241 564.7L242 567.4L243 564.6L244 565.6L245 565.6L246 564L247 563L248 566.4L249 563.8L250 565.3L251 565.4L252 561.5L253 566.2L254 564.1L255 567.3L256 562.9L257 562.6L258 563.8L259 566.9L260 562.9L261 560.9L262 562.4L263 566.5L264 562.8L265 566L266 561.1L267 560.9L268 560.1L269 560.4L270 561.9L271 562.1L272 558.6L273 559.8L274 560.1L275 560.7L276 563.7L277 563.9L278 561.8L279 562.3L280 559.3L281 561.2L282 557.4L283 560.3L284 560.8L285 561.7L286 559.8L287 559.7L288 558" fill="none" stroke="#0c0a0a" stroke-width="3.1" stroke-linejoin="round" stroke-linecap="round"/><path d="M27.0 565.5L21.4 572.0L32.6 572.0Z" fill="#000"/><path d="M27.0 607.5L21.4 601.0L32.6 601.0Z" fill="#000"/><line x1="27.0" y1="571.0" x2="27.0" y2="602.0" stroke="#000" stroke-width="4.8"/>
<text x="345.0" y="500.3" font-size="22" font-weight="bold" font-family="'Liberation Sans', sans-serif" fill="#141212" textLength="225.0" lengthAdjust="spacingAndGlyphs">G) Triton <tspan font-weight="normal">X</tspan>-100 0.01%</text><line x1="348.0" y1="506.7" x2="619.5" y2="506.7" stroke="#5c5a5a" stroke-width="1.5"/><line x1="618.8" y1="506.7" x2="618.8" y2="732.3" stroke="#b8b6b6" stroke-width="1.3"/><line x1="351.5" y1="506.7" x2="351.5" y2="734.3" stroke="#c6c4c4" stroke-width="1.1"/><path d="M348.5 726.3h3.6M350.1 715.3h2.0M350.1 704.3h2.0M350.1 693.4h2.0M350.1 682.4h2.0M348.5 671.4h3.6M350.1 660.4h2.0M350.1 649.4h2.0M350.1 638.5h2.0M350.1 627.5h2.0M348.5 616.5h3.6M350.1 605.5h2.0M350.1 594.5h2.0M350.1 583.6h2.0M350.1 572.6h2.0M348.5 561.6h3.6M350.1 550.6h2.0M350.1 539.6h2.0M350.1 528.7h2.0M350.1 517.7h2.0M348.5 506.7h3.6" stroke="#7a7878" stroke-width="1.2" fill="none"/><line x1="348.5" y1="726.3" x2="619.5" y2="726.3" stroke="#545252" stroke-width="1.6"/><path d="M351.5 726.3v6.0M369.3 726.3v2.4M387.1 726.3v2.4M405.0 726.3v2.4M422.8 726.3v2.4M440.6 726.3v6.0M458.4 726.3v2.4M476.2 726.3v2.4M494.1 726.3v2.4M511.9 726.3v2.4M529.7 726.3v6.0M547.5 726.3v2.4M565.3 726.3v2.4M583.2 726.3v2.4M601.0 726.3v2.4M618.8 726.3v6.0" stroke="#a09e9e" stroke-width="1.1" fill="none"/><text x="350.6" y="755.2" font-size="17" font-family="'Liberation Sans', sans-serif" fill="#141212" stroke="#141212" stroke-width="0.5" text-anchor="middle">0</text><text x="425.0" y="755.2" font-size="16.5" font-weight="bold" font-family="'Liberation Sans', sans-serif" fill="#141212" textLength="107.0" lengthAdjust="spacingAndGlyphs">Time minutes</text><text x="623.4" y="755.2" font-size="17" font-family="'Liberation Sans', sans-serif" fill="#141212" stroke="#141212" stroke-width="0.5" text-anchor="middle">25</text><text transform="translate(346.0 696.4) rotate(-90)" font-size="17" font-family="'Liberation Sans', sans-serif" fill="#141212" stroke="#141212" stroke-width="0.5" letter-spacing="0.85">Bis-oxonol</text><text transform="translate(346.0 605.5) rotate(-90)" font-size="17" font-family="'Liberation Sans', sans-serif" fill="#141212" stroke="#141212" stroke-width="0.5" letter-spacing="0.12">610/10nm</text><text transform="translate(636.0 626.9) rotate(-90)" font-size="17" font-family="'Liberation Sans', sans-serif" fill="#141212" stroke="#141212" stroke-width="0.5" text-anchor="middle" textLength="138.3" lengthAdjust="spacingAndGlyphs">DiIC<tspan font-size="10" dy="3">1</tspan><tspan dy="-3">(5) 660/20nm</tspan></text><path d="M351.5 553.8L352.5 556.1L353.5 556.4L354.5 558.1L355 556.7L355.5 558.5L356.5 556.3L357.5 553.9L358 553.1L358.5 553.5L359.5 554.7L360.5 557.2L361.5 560.9L362.5 567L363.5 567.5L364.5 574.4L365.5 577.9L366.5 580.7L367.5 585.9L368.5 589.6L369.5 594.2L370.5 598.9L371.5 601.7L372.5 606.4L373.5 610.4L374.5 614.4L375.5 616.8L376.5 621L377.5 627L378.5 627.8L379.5 631L380.5 634.4L381.5 636.4L382.5 637.8L383.5 643.7L384.5 645.3L385.5 644.9L386.5 648.1L387.5 648.7L388 649.5L388.5 651.6L389.5 654.2L390.5 651L391.5 656.3L392.5 654.9L393.5 657.2L394.5 658.2L395.5 659.3L396.5 661.3L397.5 662L398 661.5L398.5 660.9L399.5 662.2L400.5 663.3L401.5 663.3L402.5 662.9L403.5 663.2L404.5 661.7L405.5 666.3L406.5 665.9L407.5 667.5L408.5 668.1L409.5 667.9L410.5 668.2L411.5 670.3L412.5 670.6L413 671.4L413.5 667L414.5 670.5L415.5 669.9L416.5 670.2L417.5 670.1L418.5 670.9L419.5 671.2L420.5 672.3L421.5 672.6L422.5 671.1L423.5 671.9L424.5 670.5L425.5 671.2L426.5 670.9L427.5 672.3L428.5 671.8L429.5 671.7L430.5 672.6L431.5 670.9L432.5 672.8L433.5 673.5L434.5 674.4L435.5 672.2L436.5 673L437.5 671.6L438.5 675.1L439.5 673.7L440 674.2L440.5 672.5L441.5 673.8L442.5 673.6L443.5 673L444.5 673.1L445.5 673.4L446.5 673.6L447.5 672.8L448.5 675.9L449.5 674.6L450.5 674.8L451.5 674.9L452.5 674.6L453.5 674.8L454.5 675.5L455.5 674.8L456.5 676.4L457.5 675L458.5 676.4L459.5 674.4L460.5 675.7L461.5 676.2L462.5 676.9L463.5 677L464.5 674.7L465.5 675.1L466.5 677.4L467.5 675.6L468.5 674.5L469.5 677.2L470.5 676.8L471.5 675.1L472.5 675.7L473.5 677.7L474.5 676L475.5 676L476.5 676.2L477.5 678L478.5 675.1L479.5 677.2L480 676.9L480.5 677.3L481.5 679L482.5 677L483.5 677.5L484.5 677.5L485.5 678.5L486.5 674.9L487.5 677.1L488.5 677.4L489.5 676L490.5 678.7L491.5 678L492.5 675.9L493.5 677.3L494.5 678.3L495.5 677.8L496.5 677L497.5 678.4L498.5 678.2L499.5 677L500.5 677.8L501.5 679.3L502.5 679.2L503.5 677.2L504.5 677.6L505.5 679.6L506.5 676.6L507.5 678.8L508.5 678.1L509.5 678.7L510.5 680L511.5 676.3L512.5 679.5L513.5 677.8L514.5 677.4L515.5 677.6L516.5 677.8L517.5 677.9L518.5 679L519.5 678.6L520.5 680L521.5 677.6L522.5 679.9L523.5 678L524.5 679.4L525.5 679L526.5 680.2L527.5 678.1L528.5 679.5L529.5 681L530.5 680.8L531.5 679.3L532.5 680.4L533.5 680.8L534.5 680.3L535.5 681.8L536.5 680.8L537.5 677.7L538.5 680.6L539.5 683.5L540 679.7L540.5 679.7L541.5 680.1L542.5 679.3L543.5 679.8L544.5 680L545.5 682.1L546.5 679.9L547.5 680.7L548.5 680L549.5 679.3L550.5 679.6L551.5 679.1L552.5 681.6L553.5 680L554.5 678.9L555.5 676.1L556.5 682.4L557.5 680.6L558.5 681.2L559.5 681.1L560.5 680L561.5 679.4L562.5 681.7L563.5 677.1L564.5 679.9L565.5 679.6L566.5 680.3L567.5 679.8L568.5 681.6L569.5 682.1L570.5 680.7L571.5 679.3L572.5 679.8L573.5 680.2L574.5 679.7L575.5 679.4L576.5 682.4L577.5 681.6L578.5 682.9L579.5 679.9L580.5 680.8L581.5 680L582.5 681.3L583.5 681.5L584.5 682.6L585.5 679.9L586.5 680.5L587.5 679.2L588.5 680.5L589.5 682.6L590.5 680.3L591.5 681.5L592.5 682.1L593.5 682.5L594.5 679.6L595.5 680.7L596.5 680.4L597.5 682.3L598.5 682.1L599.5 679.9L600 680.5L600.5 681.4L601.5 683.1L602.5 680.7L603.5 682.3L604.5 680.3L605.5 679.9L606.5 682L607.5 680.4L608.5 679.7L609.5 682.5L610.5 681.9L611.5 680L612.5 682.2L613.5 681.8L614.5 682L615.5 680.4L616.5 681L617.5 679.4L618 678.2" fill="none" stroke="#8f8b8b" stroke-width="3.0" stroke-linejoin="round" stroke-linecap="round"/><path d="M351 609.6L352 607L353 609.6L354 610.3L355 604.1L356 604.5L357 606.5L358 605L359 605.6L360 612L361 619.6L362 620L363 619.1L364 621.2L365 609.8L366 616.2L367 618.5L368 616.6L369 619L370 616.2L371 615.1L372 613.8L373 617.2L374 614.7L375 614.4L376 613L377 614.2L378 614L379 613.6L380 613.2L381 614.8L382 609.9L383 610.1L384 610.6L385 613.5L386 613.8L387 612L388 609.7L389 611.3L390 613.3L391 612.4L392 612.3L393 611.4L394 613.4L395 612.8L396 613.2L397 613.2L398 610.5L399 611.5L400 609.2L401 609.3L402 608.7L403 604.7L404 606.5L405 604.8L406 602.9L407 602.3L408 604.8L409 599.6L410 602.7L411 597.4L412 599.3L413 599L414 599L415 598.4L416 597.9L417 595.3L418 595L419 596.9L420 595L421 592.3L422 591.2L423 591.1L424 593.3L425 591.8L426 592.8L427 590.6L428 591.9L429 591.7L430 588.9L431 590L432 587.5L433 588.3L434 588.7L435 586.8L436 588.8L437 586.5L438 586.9L439 587.3L440 586.9L441 586.5L442 585.9L443 585.3L444 585.7L445 582.7L446 581.6L447 581.9L448 583.5L449 586.5L450 585L451 585.2L452 588.7L453 585L454 585.8L455 581.7L456 582.1L457 580.2L458 580.6L459 583L460 577.2L461 580.9L462 580.5L463 578.2L464 576.6L465 578.3L466 576L467 577.3L468 578.8L469 579L470 575.3L471 573.2L472 575.5L473 575.3L474 576.6L475 574.5L476 572.6L477 573.9L478 568.2L479 570.1L480 570.1L481 571.4L482 569.6L483 572.8L484 571.1L485 568.2L486 569.3L487 571.4L488 572.6L489 574.7L490 576.7L491 571.9L492 568.5L493 565.7L494 568.3L495 564L496 554L497 564.8L498 560.9L499 561.5L500 557.8L501 557.3L502 558.2L503 555.7L504 559.5L505 561.2L506 565.2L507 565.1L508 569.8L509 565.1L510 563.9L511 563.3L512 562.1L513 566.9L514 560.8L515 562.9L516 559.2L517 560.6L518 558.8L519 557L520 556L521 554.3L522 553L523 554.9L524 549.4L525 552.9L526 555.7L527 558.7L528 554.9L529 554.3L530 555.4L531 557.3L532 555.4L533 553.2L534 556.4L535 555.4L536 555.7L537 552.8L538 550.6L539 550L540 554.8L541 554.6L542 550.3L543 547.7L544 548.8L545 541.8L546 541L547 541.4L548 537.2L549 536.7L550 535L551 534L552 534L553 531.7L554 533L555 528.7L556 532.5L557 530.8L558 531.3L559 531.5L560 532.1L561 534.3L562 530.1L563 532.4L564 531.5L565 531.6L566 534.1L567 533.8L568 535.1L569 532.6L570 532.6L571 531.9L572 533L573 532.8L574 531.1L575 533.8L576 535L577 540.3L578 539.9L579 535L580 536.6L581 534.6L582 536.5L583 538.8L584 541.6L585 539.1L586 541.2L587 535.2L588 538L589 535.1L590 534.4L591 532.2L592 525.3L593 528.5L594 529.1L595 534.7L596 527.9L597 527.5L598 532L599 533.3L600 527.1L601 527.1L602 528.4L603 530.5L604 525.8L605 527.2L606 528.1L607 525.7L608 523.7L609 522.6L610 520.1L611 519.9L612 517.8L613 521.7L614 525.8L615 532.3L616 534.5L617 534L618 535.2" fill="none" stroke="#0c0a0a" stroke-width="3.0" stroke-linejoin="round" stroke-linecap="round"/><path d="M357.0 567.0L351.4 573.5L362.6 573.5Z" fill="#000"/><path d="M357.0 606.0L351.4 599.5L362.6 599.5Z" fill="#000"/><line x1="357.0" y1="572.5" x2="357.0" y2="600.5" stroke="#000" stroke-width="4.8"/>
<text x="20.5" y="780.3" font-size="22" font-weight="bold" font-family="'Liberation Sans', sans-serif" fill="#141212" textLength="217.0" lengthAdjust="spacingAndGlyphs">D) Sodium azide 1%)</text><rect x="16.3" y="791.2" width="277.5" height="136.9" fill="#080506"/><text x="107.5" y="810.0" font-size="21.5" font-family="'Liberation Sans', sans-serif" fill="#c02232" stroke="#c02232" stroke-width="0.55" filter="url(#b05)" textLength="46.3" lengthAdjust="spacingAndGlyphs">pmp</text><text x="240.0" y="809.6" font-size="21.5" font-family="'Liberation Sans', sans-serif" fill="#903270" stroke="#903270" stroke-width="0.55" filter="url(#b05)" textLength="50.0" lengthAdjust="spacingAndGlyphs">mmp</text><g filter="url(#b1)"><ellipse cx="63.8" cy="850.6" rx="19.5" ry="26.5" transform="rotate(8 63.8 850.6)" fill="#d81a2c"/><ellipse cx="63.8" cy="853.8" rx="14" ry="19.5" transform="rotate(8 63.8 853.8)" fill="#1c0609"/><circle cx="53.5" cy="864" r="5" fill="#e42034"/><ellipse cx="104.4" cy="886.9" rx="22.8" ry="21.8" fill="#d81a2c"/><ellipse cx="106.3" cy="887.3" rx="16.8" ry="16.6" fill="#1c0609"/><circle cx="88" cy="882.5" r="5.5" fill="#e42034"/></g><g filter="url(#b05)"><line x1="30.0" y1="911.3" x2="73.8" y2="911.3" stroke="#7fc24a" stroke-width="2.4"/><circle cx="30.0" cy="911.3" r="2.9" fill="#7fc24a"/><circle cx="73.8" cy="911.3" r="2.9" fill="#7fc24a"/></g><text x="51.9" y="923.5" font-size="8" font-family="'Liberation Sans', sans-serif" fill="#7c9a62" text-anchor="middle">10 µm</text><g filter="url(#b05)"><line x1="168.8" y1="911.8" x2="210.8" y2="911.8" stroke="#7fc24a" stroke-width="2.4"/><circle cx="168.8" cy="911.8" r="2.9" fill="#7fc24a"/><circle cx="210.8" cy="911.8" r="2.9" fill="#7fc24a"/></g><text x="189.8" y="923.5" font-size="8" font-family="'Liberation Sans', sans-serif" fill="#7c9a62" text-anchor="middle">10 µm</text>
<text x="352.5" y="781.0" font-size="22" font-weight="bold" font-family="'Liberation Sans', sans-serif" fill="#141212" textLength="225.0" lengthAdjust="spacingAndGlyphs">H) Triton <tspan font-weight="normal">X</tspan>-100 0.01%</text><rect x="352.5" y="790" width="277" height="138.1" fill="#080506"/><path d="M505 797L530 805L560 840L590 880L585 895L540 880L515 850L500 815Z" fill="#0f0b0d" filter="url(#b3)"/><path d="M622 866L629 862L629 892L620 884Z" fill="#5a1438" filter="url(#b2)"/><path d="M610 905L622 908L618 922L606 918Z" fill="#3c1028" filter="url(#b2)"/><g filter="url(#b1)"><path d="M358.8 797.5L363.8 791.2L382.5 791.2L386.2 796.2L391.2 805.0L395.0 813.8L401.2 820.0L402.5 830.0L407.5 836.2L409.0 842.0L416.0 846.0L424.0 845.0L430.0 842.0L433.8 847.5L441.2 856.2L446.2 863.8L445.0 871.2L450.0 881.2L455.0 886.0L460.0 888.8L470.0 895.0L478.0 900.0L482.5 906.0L484.0 914.0L479.0 919.0L470.0 920.0L464.0 917.5L461.0 919.0L461.0 928.0L445.0 928.0L444.0 922.5L436.0 912.5L430.0 905.0L395.0 905.5L366.0 904.5L361.0 896.0L361.2 885.0L360.0 876.2L363.8 867.5L372.5 861.2L382.5 858.8L385.0 852.5L382.5 843.8L375.0 836.2L366.2 830.0L362.5 822.5L358.8 815.0L356.2 805.0Z" fill="#dc1a2c"/><path d="M457.5 880.0L462.0 875.0L470.0 873.8L478.0 876.0L482.0 872.0L486.0 868.0L490.0 865.5L491.5 875.0L490.0 884.0L484.0 889.0L476.0 891.0L466.0 890.0L459.0 887.0Z" fill="#dc1a2c"/><path d="M408.8 861.2L417.5 860.0L420.0 866.2L415.0 870.0L409.5 867.5Z" fill="#16060a"/><path d="M398.8 870.0L406.2 871.2L405.0 877.5L399.5 876.2Z" fill="#16060a"/><path d="M388.8 848.8L393.8 847.0L396.2 852.5L391.2 855.5Z" fill="#16060a"/></g><text x="438.7" y="808.8" font-size="21.5" font-family="'Liberation Sans', sans-serif" fill="#cc2e42" stroke="#cc2e42" stroke-width="0.55" filter="url(#b05)" textLength="45.0" lengthAdjust="spacingAndGlyphs">pmp</text><text x="568.7" y="808.8" font-size="21.5" font-family="'Liberation Sans', sans-serif" fill="#80285c" stroke="#80285c" stroke-width="0.55" filter="url(#b05)" textLength="50.0" lengthAdjust="spacingAndGlyphs">mmp</text><g fill="#f0eeee"><ellipse cx="375" cy="894.4" rx="10.4" ry="8.8"/><path d="M368.5 900.5l-2.5 5 6-2.8z"/><ellipse cx="385.4" cy="901.8" rx="9.8" ry="8.6" stroke="#3a2226" stroke-width="1.4"/><path d="M391.5 908l2.5 3.5 -5.5-1.5z"/></g><circle cx="371" cy="891.3" r="1.6" fill="#2e2426"/><circle cx="379.4" cy="891.3" r="1.6" fill="#2e2426"/><circle cx="381.9" cy="898.8" r="1.5" fill="#2e2426"/><circle cx="388.8" cy="898.8" r="1.5" fill="#2e2426"/><text x="400.5" y="905" font-size="20.5" font-family="'Liberation Sans', 'Noto Sans CJK SC', sans-serif" fill="#e0dcdc" opacity="0.92" textLength="61" lengthAdjust="spacingAndGlyphs">微信号</text><text x="462.5" y="902.5" font-size="21.5" font-family="'Liberation Sans', 'Noto Sans CJK SC', sans-serif" fill="#e0dcdc" opacity="0.92">:</text><text x="474" y="902.5" font-size="21.5" font-family="'Liberation Sans', 'Noto Sans CJK SC', sans-serif" fill="#e4e0e0" opacity="0.94" textLength="144" lengthAdjust="spacingAndGlyphs">flowcytometry</text><g filter="url(#b05)"><line x1="365.0" y1="913.8" x2="378.8" y2="913.8" stroke="#7fc24a" stroke-width="2.8"/><circle cx="365.0" cy="913.8" r="3.0" fill="#7fc24a"/><circle cx="378.8" cy="913.8" r="3.0" fill="#7fc24a"/></g><text x="371.9" y="927.0" font-size="8" font-family="'Liberation Sans', sans-serif" fill="#6e8c54" text-anchor="middle">10 µm</text><g filter="url(#b05)"><line x1="502.5" y1="913.8" x2="517.5" y2="913.8" stroke="#7fc24a" stroke-width="2.8"/><circle cx="502.5" cy="913.8" r="3.0" fill="#7fc24a"/><circle cx="517.5" cy="913.8" r="3.0" fill="#7fc24a"/></g><text x="510.0" y="927.0" font-size="8" font-family="'Liberation Sans', sans-serif" fill="#6e8c54" text-anchor="middle">10 µm</text>
</svg>
</body></html>
